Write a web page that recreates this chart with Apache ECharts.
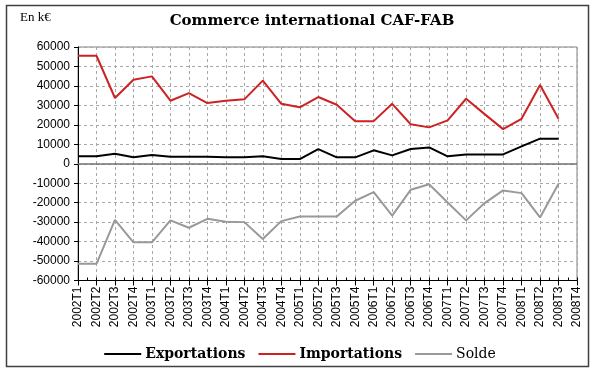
<!DOCTYPE html>
<html><head><meta charset="utf-8">
<script src="https://cdn.jsdelivr.net/npm/echarts@6/dist/echarts.min.js"></script>
<style>html,body{margin:0;padding:0;background:#fff}#c{width:600px;height:372px}</style>
</head><body><div id="c"></div>
<script>
var categories = ['2002T1','2002T2','2002T3','2002T4','2003T1','2003T2','2003T3','2003T4','2004T1','2004T2','2004T3','2004T4','2005T1','2005T2','2005T3','2005T4','2006T1','2006T2','2006T3','2006T4','2007T1','2007T2','2007T3','2007T4','2008T1','2008T2','2008T3','2008T4'];
var exportations = [3800,3800,5100,3300,4500,3600,3600,3600,3300,3300,3800,2400,2400,7500,3300,3300,6900,4300,7600,8400,3800,4800,4800,4800,8900,12900,12900];
var importations = [55500,55500,33800,43200,44900,32400,36300,31200,32400,33100,42700,30800,29000,34300,30300,21900,21900,30800,20300,18700,22300,33400,25500,17800,23100,40500,23100];
var solde = [-51400,-51400,-28800,-40400,-40400,-29100,-32900,-28300,-29800,-30000,-38700,-29500,-27100,-27100,-27100,-19000,-14600,-26700,-13400,-10500,-19900,-29100,-20200,-13700,-15100,-27600,-10300];
var yTicks = {min:-60000, max:60000, step:10000};

var halfTicks = [];
for (var i = 0; i < categories.length * 2 - 1; i++) halfTicks.push('');

var chart = echarts.init(document.getElementById('c'));
chart.setOption({
  animation: false,
  backgroundColor: '#fff',
  graphic: [
    {type:'rect', shape:{x:6.5,y:5.5,width:582,height:361}, style:{fill:'none', stroke:'#404040', lineWidth:1.5}, z:-10},
    {type:'text', left:20, top:11, style:{text:'En k€', font:'13px "Liberation Serif"', fill:'#000'}}
  ],
  title: {
    text: 'Commerce international CAF-FAB',
    left: 307, top: 9, textAlign: 'center',
    textStyle: {fontFamily:'DejaVu Serif', fontWeight:'bold', fontSize:15, color:'#000'}
  },
  legend: {
    left: 'center', top: 342,
    icon: 'rect', itemWidth: 37, itemHeight: 2, itemGap: 13,
    textStyle: {fontFamily:'DejaVu Serif', fontSize:14, color:'#000', padding:[0,0,0,-1]},
    data: [
      {name:'Exportations', textStyle:{fontWeight:'bold'}},
      {name:'Importations', textStyle:{fontWeight:'bold'}},
      {name:'Solde', textStyle:{fontWeight:'normal'}}
    ]
  },
  grid: {left:78, right:23, top:47, bottom:91.5, show:true, borderColor:'#808080', borderWidth:1},
  xAxis: [{
    type:'category', data:categories, boundaryGap:false,
    axisLine:{onZero:false, lineStyle:{color:'#000', width:1}},
    axisTick:{show:true, interval:0, length:5, lineStyle:{color:'#000'}},
    axisLabel:{interval:0, rotate:90, fontFamily:'Liberation Sans', fontSize:12, color:'#000', margin:6},
    splitLine:{show:true, interval:0, lineStyle:{type:[3,3], color:'#a8a8a8', width:1}}
  },{
    type:'category', data:halfTicks, boundaryGap:false, position:'bottom',
    axisLine:{show:false, onZero:false},
    axisTick:{show:true, interval:0, length:3, inside:true, lineStyle:{color:'#000'}},
    axisLabel:{show:false}, splitLine:{show:false}
  }],
  yAxis: {
    type:'value', min:yTicks.min, max:yTicks.max, interval:yTicks.step,
    axisLine:{show:true, lineStyle:{color:'#000', width:1}},
    axisTick:{show:true, length:4, lineStyle:{color:'#000'}},
    axisLabel:{fontFamily:'Liberation Sans', fontSize:12, color:'#000', margin:8, formatter:function(v){return String(v);}},
    splitLine:{show:true, lineStyle:{type:[3,3], color:'#a8a8a8', width:1}}
  },
  series: [
    {name:'Exportations', type:'line', data:exportations, symbol:'none', lineStyle:{color:'#000', width:2}, itemStyle:{color:'#000'}, z:4,
     markLine:{silent:true, symbol:'none', label:{show:false}, lineStyle:{type:'solid', color:'#707070', width:1.5}, data:[{yAxis:0}], z:1}},
    {name:'Importations', type:'line', data:importations, symbol:'none', lineStyle:{color:'#cc2222', width:2}, itemStyle:{color:'#cc2222'}, z:4},
    {name:'Solde', type:'line', data:solde, symbol:'none', lineStyle:{color:'#999999', width:2}, itemStyle:{color:'#999999'}, z:4}
  ]
});
</script></body></html>
